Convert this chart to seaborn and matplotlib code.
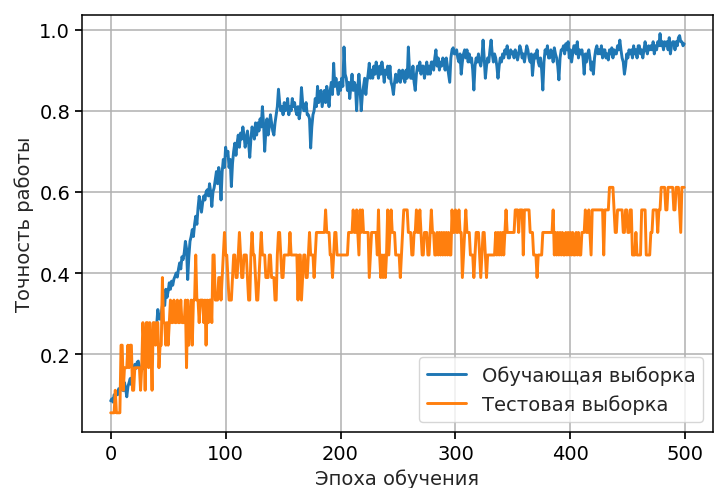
import numpy as np
import seaborn as sns
from matplotlib import pyplot as plt

# accuracy on the training set, one value per epoch
train_acc = [
    0.085, 0.09, 0.082, 0.10, 0.095, 0.105, 0.10, 0.115, 0.108, 0.12,
    0.12, 0.11, 0.13, 0.115, 0.095, 0.12, 0.13, 0.14, 0.125, 0.15,
    0.16, 0.175, 0.165, 0.18, 0.183, 0.17, 0.165, 0.16, 0.175, 0.165,
    0.17, 0.185, 0.19, 0.18, 0.205, 0.22, 0.21, 0.245, 0.24, 0.232,
    0.27, 0.31, 0.29, 0.286, 0.30, 0.32, 0.335, 0.32, 0.36, 0.34,
    0.355, 0.376, 0.36, 0.38, 0.37, 0.385, 0.392, 0.40, 0.39, 0.41,
    0.425, 0.41, 0.44, 0.433, 0.45, 0.478, 0.46, 0.384, 0.44, 0.478,
    0.49, 0.507, 0.49, 0.52, 0.54, 0.52, 0.56, 0.589, 0.57, 0.55,
    0.573, 0.59, 0.58, 0.60, 0.605, 0.59, 0.62, 0.60, 0.564, 0.60,
    0.61, 0.63, 0.65, 0.62, 0.66, 0.64, 0.58, 0.65, 0.68, 0.66,
    0.71, 0.69, 0.70, 0.66, 0.68, 0.613, 0.67, 0.70, 0.72, 0.69,
    0.72, 0.74, 0.71, 0.745, 0.73, 0.76, 0.74, 0.71, 0.73, 0.75,
    0.72, 0.685, 0.73, 0.76, 0.75, 0.73, 0.77, 0.74, 0.77, 0.75,
    0.78, 0.76, 0.81, 0.77, 0.70, 0.75, 0.78, 0.74, 0.76, 0.79,
    0.77, 0.75, 0.74, 0.77, 0.79, 0.81, 0.853, 0.82, 0.80, 0.81,
    0.79, 0.82, 0.80, 0.81, 0.83, 0.79, 0.81, 0.80, 0.83, 0.81,
    0.82, 0.80, 0.79, 0.81, 0.78, 0.80, 0.857, 0.82, 0.80, 0.80,
    0.82, 0.79, 0.79, 0.78, 0.708, 0.76, 0.79, 0.80, 0.83, 0.81,
    0.86, 0.82, 0.84, 0.85, 0.81, 0.83, 0.85, 0.82, 0.86, 0.84,
    0.81, 0.85, 0.87, 0.84, 0.917, 0.86, 0.88, 0.86, 0.84, 0.87,
    0.85, 0.88, 0.86, 0.957, 0.89, 0.88, 0.85, 0.87, 0.83, 0.86,
    0.89, 0.85, 0.87, 0.86, 0.80, 0.86, 0.89, 0.85, 0.80, 0.84,
    0.86, 0.88, 0.84, 0.87, 0.89, 0.917, 0.88, 0.90, 0.88, 0.91,
    0.89, 0.92, 0.90, 0.88, 0.91, 0.89, 0.92, 0.90, 0.87, 0.90,
    0.89, 0.91, 0.88, 0.91, 0.87, 0.86, 0.84, 0.87, 0.89, 0.87,
    0.88, 0.90, 0.87, 0.89, 0.90, 0.88, 0.87, 0.90, 0.88, 0.957,
    0.90, 0.88, 0.88, 0.91, 0.87, 0.85, 0.89, 0.91, 0.90, 0.92,
    0.89, 0.91, 0.91, 0.88, 0.90, 0.92, 0.89, 0.91, 0.89, 0.92,
    0.92, 0.90, 0.93, 0.95, 0.91, 0.93, 0.90, 0.92, 0.91, 0.93,
    0.92, 0.90, 0.93, 0.91, 0.89, 0.87, 0.93, 0.95, 0.955, 0.94,
    0.94, 0.95, 0.93, 0.92, 0.94, 0.89, 0.92, 0.94, 0.95, 0.93,
    0.95, 0.92, 0.94, 0.92, 0.93, 0.90, 0.851, 0.91, 0.93, 0.92,
    0.94, 0.92, 0.91, 0.93, 0.974, 0.93, 0.88, 0.91, 0.93, 0.92,
    0.95, 0.974, 0.94, 0.92, 0.94, 0.93, 0.91, 0.88, 0.91, 0.93,
    0.92, 0.94, 0.93, 0.95, 0.94, 0.96, 0.93, 0.93, 0.95, 0.94,
    0.945, 0.93, 0.95, 0.94, 0.925, 0.94, 0.96, 0.95, 0.93, 0.94,
    0.92, 0.94, 0.96, 0.95, 0.93, 0.92, 0.94, 0.887, 0.92, 0.94,
    0.93, 0.95, 0.92, 0.91, 0.93, 0.90, 0.851, 0.92, 0.95, 0.94,
    0.96, 0.93, 0.93, 0.95, 0.94, 0.92, 0.955, 0.94, 0.93, 0.91,
    0.876, 0.93, 0.95, 0.95, 0.96, 0.94, 0.965, 0.95, 0.97, 0.93,
    0.95, 0.92, 0.94, 0.96, 0.96, 0.94, 0.97, 0.93, 0.95, 0.94,
    0.95, 0.93, 0.89, 0.94, 0.92, 0.94, 0.95, 0.93, 0.90, 0.92,
    0.89, 0.93, 0.95, 0.96, 0.94, 0.95, 0.94, 0.96, 0.93, 0.95,
    0.95, 0.93, 0.94, 0.925, 0.95, 0.94, 0.955, 0.93, 0.95, 0.94,
    0.94, 0.96, 0.95, 0.974, 0.95, 0.93, 0.92, 0.89, 0.91, 0.94,
    0.93, 0.95, 0.94, 0.95, 0.93, 0.96, 0.94, 0.95, 0.93, 0.96,
    0.96, 0.94, 0.95, 0.93, 0.95, 0.97, 0.95, 0.94, 0.96, 0.95,
    0.96, 0.95, 0.97, 0.94, 0.96, 0.95, 0.97, 0.96, 0.99, 0.96,
    0.97, 0.95, 0.97, 0.96, 0.97, 0.95, 0.98, 0.94, 0.96, 0.97,
    0.97, 0.95, 0.97, 0.96, 0.98, 0.985, 0.97, 0.97, 0.96, 0.965,
]

# test set has 18 samples: number of correct answers per epoch
test_size = 18
test_correct = [
    1, 1, 1, 1, 2, 1, 1, 1, 1, 4,
    4, 2, 3, 3, 3, 4, 3, 4, 4, 2,
    2, 3, 3, 3, 3, 3, 2, 3, 5, 4,
    2, 5, 5, 3, 5, 4, 2, 5, 5, 4,
    5, 5, 3, 4, 4, 7, 5, 5, 4, 5,
    4, 5, 6, 5, 5, 6, 5, 5, 6, 5,
    5, 6, 5, 5, 5, 6, 3, 6, 4, 5,
    6, 4, 6, 6, 8, 6, 6, 5, 6, 6,
    6, 5, 6, 4, 6, 5, 6, 6, 5, 8,
    8, 6, 6, 6, 7, 7, 6, 7, 8, 9,
    8, 8, 7, 6, 6, 6, 7, 8, 8, 7,
    7, 8, 9, 8, 7, 7, 8, 8, 8, 7,
    6, 6, 8, 9, 8, 8, 7, 6, 6, 7,
    8, 9, 8, 8, 8, 7, 7, 7, 8, 8,
    7, 7, 7, 6, 6, 8, 9, 9, 8, 7,
    7, 8, 8, 8, 8, 8, 9, 8, 8, 8,
    8, 8, 8, 6, 8, 8, 6, 7, 8, 8,
    7, 7, 8, 9, 8, 8, 8, 7, 8, 9,
    9, 9, 9, 9, 9, 9, 9, 10, 9, 9,
    9, 8, 8, 7, 8, 9, 9, 8, 8, 8,
    8, 8, 8, 8, 8, 8, 8, 9, 9, 9,
    9, 10, 9, 9, 10, 9, 8, 10, 9, 10,
    9, 9, 9, 9, 9, 7, 8, 9, 9, 9,
    9, 9, 8, 10, 8, 7, 8, 7, 8, 7,
    8, 10, 8, 9, 10, 9, 9, 9, 8, 8,
    8, 8, 7, 8, 9, 10, 10, 10, 10, 9,
    9, 9, 8, 8, 9, 9, 10, 9, 9, 10,
    9, 8, 8, 9, 9, 9, 8, 8, 9, 10,
    9, 9, 8, 8, 9, 8, 9, 8, 9, 8,
    9, 8, 9, 8, 9, 8, 8, 10, 9, 9,
    10, 9, 9, 10, 9, 9, 7, 8, 9, 10,
    9, 9, 9, 8, 8, 8, 7, 8, 9, 9,
    9, 8, 7, 8, 9, 9, 8, 7, 8, 8,
    8, 8, 8, 8, 8, 9, 8, 9, 8, 9,
    8, 9, 8, 9, 10, 9, 9, 9, 9, 9,
    9, 9, 10, 10, 10, 9, 10, 10, 10, 8,
    10, 10, 10, 10, 10, 9, 9, 9, 8, 8,
    8, 7, 8, 8, 8, 8, 9, 9, 9, 9,
    9, 9, 9, 9, 9, 10, 8, 9, 8, 9,
    8, 9, 8, 9, 8, 8, 9, 8, 9, 8,
    9, 8, 9, 8, 8, 9, 8, 9, 8, 8,
    9, 9, 9, 10, 9, 9, 10, 9, 8, 10,
    10, 10, 10, 10, 10, 10, 10, 10, 10, 8,
    10, 10, 10, 10, 11, 11, 11, 11, 10, 9,
    9, 10, 10, 10, 10, 10, 9, 9, 10, 10,
    9, 9, 10, 10, 8, 8, 8, 9, 8, 8,
    8, 8, 10, 10, 10, 10, 8, 8, 8, 8,
    9, 9, 10, 10, 10, 10, 9, 10, 10, 11,
    11, 11, 11, 10, 10, 11, 11, 11, 11, 11,
    10, 10, 11, 11, 11, 10, 9, 11, 11, 11,
]

train_label = "Обучающая выборка"
test_label = "Тестовая выборка"
x_label = "Эпоха обучения"
y_label = "Точность работы"

sns.set_theme(
    style="ticks",
    rc={
        "axes.grid": True,
        "grid.color": "#b0b0b0",
        "grid.linewidth": 1.1,
        "axes.edgecolor": "black",
        "axes.linewidth": 1.1,
        "xtick.major.size": 5,
        "ytick.major.size": 5,
    },
)
plt.rcParams["font.family"] = ["DejaVu Sans"]

fig, ax = plt.subplots(figsize=(7.15, 4.89), dpi=100)
fig.subplots_adjust(left=0.1147, right=0.997, bottom=0.115, top=0.968)

test_acc = np.array(test_correct) / test_size

sns.lineplot(x=np.arange(len(train_acc)), y=train_acc, ax=ax,
             color="#1f77b4", linewidth=2.1, label=train_label)
sns.lineplot(x=np.arange(len(test_acc)), y=test_acc, ax=ax,
             color="#ff7f0e", linewidth=2.1, label=test_label)

ax.set_xlabel(x_label, fontsize=14)
ax.set_ylabel(y_label, fontsize=14)
ax.set_xticks([0, 100, 200, 300, 400, 500])
ax.set_yticks([0.2, 0.4, 0.6, 0.8, 1.0])
ax.tick_params(labelsize=14, colors="black")
ax.margins(x=0.05, y=0.05)

ax.legend(loc="lower right", fontsize=14, frameon=True, framealpha=0.8,
          edgecolor="#cccccc", fancybox=True)

fig.savefig("out.png", dpi=100)
